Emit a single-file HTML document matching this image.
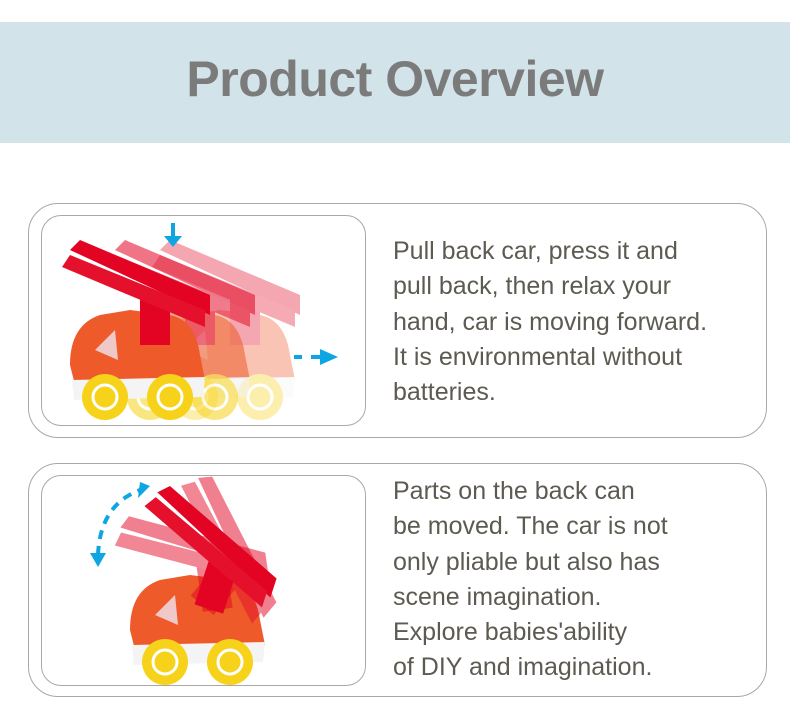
<!DOCTYPE html>
<html><head><meta charset="utf-8"><style>
body{margin:0;width:790px;height:712px;background:#fff;position:relative;overflow:hidden;font-family:"Liberation Sans",sans-serif}
.hdr{position:absolute;left:0;top:22px;width:790px;height:121px;background:#d3e3ea}
.hdr div{position:absolute;left:0;width:790px;top:28px;text-align:center;font-size:50px;font-weight:bold;color:#7b7b7b;letter-spacing:-0.5px}
.outer{position:absolute;left:28px;width:737px;border:1.5px solid #a8a8a8;border-radius:30px}
.inner{position:absolute;left:41px;width:323px;border:1.5px solid #a8a8a8;border-radius:20px}
.txt{position:absolute;left:393px;font-size:25px;line-height:35.3px;color:#5d5a52}
svg{position:absolute;left:0;top:0}
</style></head><body>
<div class="hdr"><div>Product Overview</div></div>
<div class="outer" style="top:203px;height:233px"></div>
<div class="inner" style="top:215px;height:209px"></div>
<div class="txt" style="top:234px">Pull back car, press it and<br>pull back, then relax your<br>hand, car is moving forward.<br>It is environmental without<br>batteries.</div>
<div class="outer" style="top:463px;height:232px"></div>
<div class="inner" style="top:475px;height:209px"></div>
<div class="txt" style="top:474px">Parts on the back can<br>be moved. The car is not<br>only pliable but also has<br>scene imagination.<br>Explore babies'ability<br>of DIY and imagination.</div>
<svg width="790" height="712">
<defs>
<g id="car">
<path d="M0,60 Q0,20 30,10 L60,5 L100,10 Q125,15 130,50 L135,75 L5,80 Z" fill="#ee5a2a"/>
<path d="M2,75 L135,72 L133,92 L4,95 Z" fill="#f4f4f4"/>
<path d="M25,45 L45,25 L48,55 Z" fill="#f0c8c8"/>
<circle cx="35" cy="92" r="23" fill="#f7d21a"/><circle cx="35" cy="92" r="12" fill="none" stroke="#fff" stroke-width="3"/>
<circle cx="100" cy="92" r="23" fill="#f7d21a"/><circle cx="100" cy="92" r="12" fill="none" stroke="#fff" stroke-width="3"/>
</g>
<g id="lad">
<rect x="70" y="-10" width="30" height="50" fill="#e20422"/>
<polygon points="0,-55 10,-65 140,-10 140,10" fill="#e20422"/>
<polygon points="-8,-38 0,-50 135,5 135,22" fill="#e5102c"/>
</g>
</defs>
<g opacity="0.35" transform="translate(160,305)"><use href="#car"/><use href="#lad"/></g>
<g opacity="0.55" transform="translate(115,305)"><use href="#car"/><use href="#lad"/></g>
<g transform="translate(70,305)"><use href="#car"/><use href="#lad"/></g>
<path d="M173,223 V240" stroke="#0ea5e3" stroke-width="4"/><polygon points="164,236 182,236 173,247" fill="#0ea5e3"/>
<path d="M294,357 h8 M311,357 h10" stroke="#0ea5e3" stroke-width="4"/><polygon points="320,349 338,357 320,365" fill="#0ea5e3"/>
<g transform="translate(130,570)"><use href="#car"/></g>
<g opacity="0.5" transform="translate(130,570) rotate(-8 85 20)"><use href="#lad"/></g>
<g opacity="0.5" transform="translate(130,570) rotate(40 85 20)"><use href="#lad"/></g>
<g transform="translate(130,570) rotate(18 85 20)"><use href="#lad"/></g>
<path d="M98,555 Q100,505 140,490" fill="none" stroke="#0ea5e3" stroke-width="4" stroke-dasharray="9,7"/>
<polygon points="90,553 106,553 98,567" fill="#0ea5e3"/><polygon points="140,482 150,486 138,498" fill="#0ea5e3"/>
</svg>
</body></html>
